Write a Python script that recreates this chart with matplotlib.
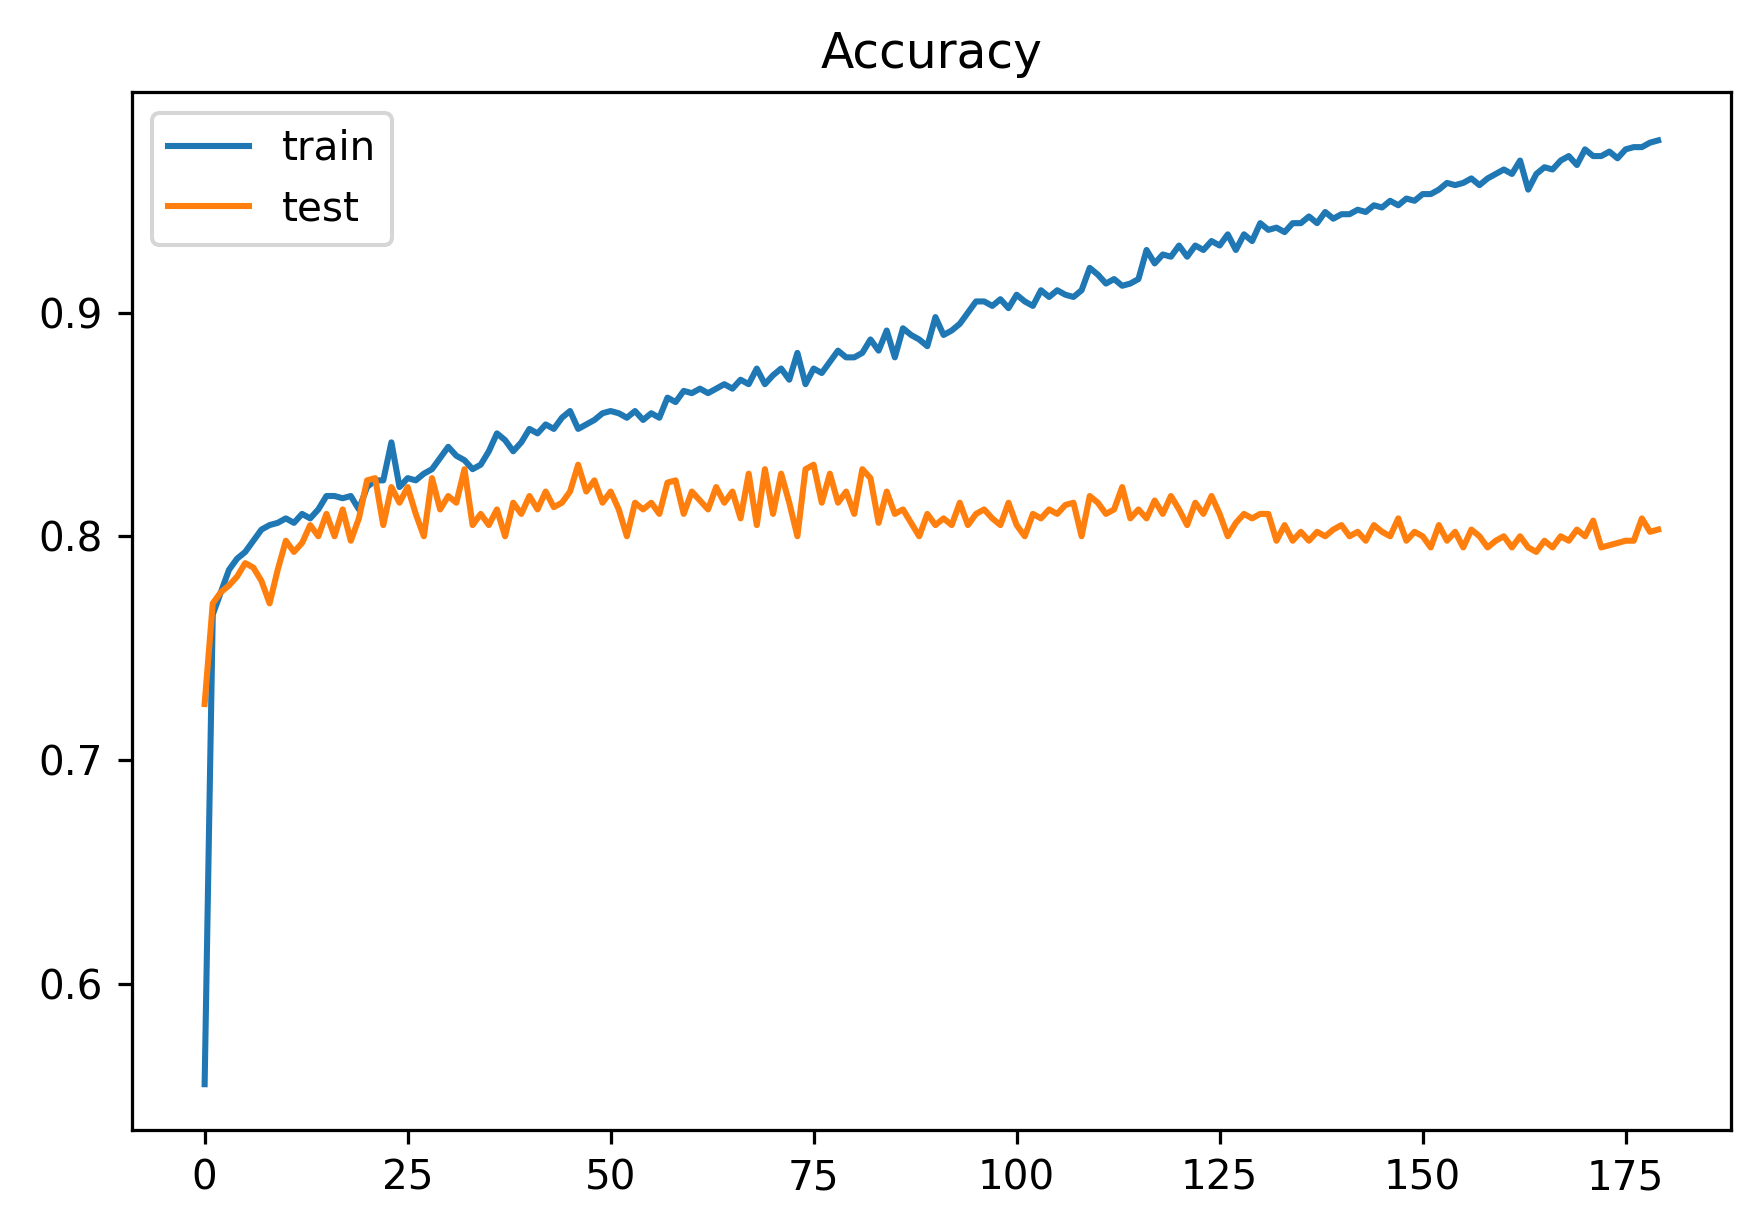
import matplotlib
matplotlib.use("Agg")
import matplotlib.pyplot as plt

train = [0.555,0.765,0.775,0.785,0.79,0.793,0.798,0.803,0.805,0.806,0.808,0.806,0.81,0.808,0.812,0.818,0.818,0.817,0.818,0.812,
0.822,0.825,0.825,0.842,0.822,0.826,0.825,0.828,0.83,0.835,0.84,0.836,0.834,0.83,0.832,0.838,0.846,0.843,0.838,0.842,
0.848,0.846,0.85,0.848,0.853,0.856,0.848,0.85,0.852,0.855,0.856,0.855,0.853,0.856,0.852,0.855,0.853,0.862,0.86,0.865,
0.864,0.866,0.864,0.866,0.868,0.866,0.87,0.868,0.875,0.868,0.872,0.875,0.87,0.882,0.868,0.875,0.873,0.878,0.883,0.88,
0.88,0.882,0.888,0.883,0.892,0.88,0.893,0.89,0.888,0.885,0.898,0.89,0.892,0.895,0.9,0.905,0.905,0.903,0.906,0.902,
0.908,0.905,0.903,0.91,0.907,0.91,0.908,0.907,0.91,0.92,0.917,0.913,0.915,0.912,0.913,0.915,0.928,0.922,0.926,0.925,
0.93,0.925,0.93,0.928,0.932,0.93,0.935,0.928,0.935,0.932,0.94,0.937,0.938,0.936,0.94,0.94,0.943,0.94,0.945,0.942,
0.944,0.944,0.946,0.945,0.948,0.947,0.95,0.948,0.951,0.95,0.953,0.953,0.955,0.958,0.957,0.958,0.96,0.957,0.96,0.962,
0.964,0.962,0.968,0.955,0.962,0.965,0.964,0.968,0.97,0.966,0.973,0.97,0.97,0.972,0.969,0.973,0.974,0.974,0.976,0.977]

test = [0.725,0.77,0.775,0.778,0.782,0.788,0.786,0.78,0.77,0.785,0.798,0.793,0.797,0.805,0.8,0.81,0.8,0.812,0.798,0.808,
0.825,0.826,0.805,0.822,0.815,0.822,0.81,0.8,0.826,0.812,0.818,0.815,0.83,0.805,0.81,0.805,0.812,0.8,0.815,0.81,
0.818,0.812,0.82,0.813,0.815,0.82,0.832,0.82,0.825,0.815,0.82,0.812,0.8,0.815,0.812,0.815,0.81,0.824,0.825,0.81,
0.82,0.816,0.812,0.822,0.815,0.82,0.808,0.828,0.805,0.83,0.81,0.828,0.815,0.8,0.83,0.832,0.815,0.828,0.815,0.82,
0.81,0.83,0.826,0.806,0.82,0.81,0.812,0.806,0.8,0.81,0.805,0.808,0.805,0.815,0.805,0.81,0.812,0.808,0.805,0.815,
0.805,0.8,0.81,0.808,0.812,0.81,0.814,0.815,0.8,0.818,0.815,0.81,0.812,0.822,0.808,0.812,0.808,0.816,0.81,0.818,
0.812,0.805,0.815,0.81,0.818,0.81,0.8,0.806,0.81,0.808,0.81,0.81,0.798,0.805,0.798,0.802,0.798,0.802,0.8,0.803,
0.805,0.8,0.802,0.798,0.805,0.802,0.8,0.808,0.798,0.802,0.8,0.795,0.805,0.798,0.802,0.795,0.803,0.8,0.795,0.798,
0.8,0.795,0.8,0.795,0.793,0.798,0.795,0.8,0.798,0.803,0.8,0.807,0.795,0.796,0.797,0.798,0.798,0.808,0.802,0.803]

epochs = list(range(len(train)))

fig = plt.figure(figsize=(1754/292, 1231/292), dpi=292)
ax = fig.add_axes([0.075, 0.082, 0.912, 0.843])
ax.plot(epochs, train, label="train")
ax.plot(epochs, test, label="test")
ax.set_title("Accuracy")
ax.set_ylim(0.5345, 0.9985)
ax.set_xlim(-9, 188)
ax.set_yticks([0.6, 0.7, 0.8, 0.9])
ax.legend(loc="upper left")
fig.savefig("out.png", dpi=292)
